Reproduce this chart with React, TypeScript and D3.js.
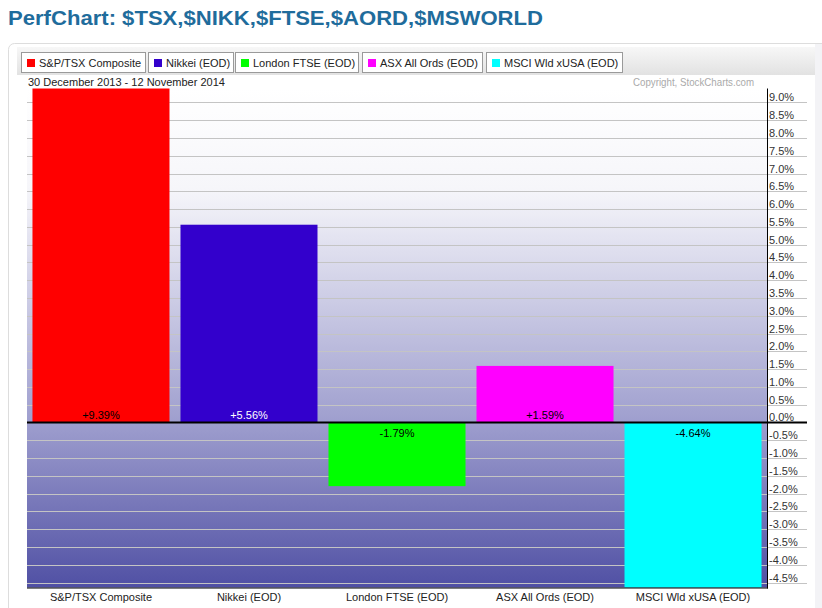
import React from "react";
import * as d3 from "d3";

const categories = ["S&P/TSX Composite", "Nikkei (EOD)", "London FTSE (EOD)", "ASX All Ords (EOD)", "MSCI Wld xUSA (EOD)"];
const values = [9.39, 5.56, -1.79, 1.59, -4.64];
const barColors = ["#ff0000", "#3300cc", "#00ff00", "#ff00ff", "#00ffff"];
const labelColors = ["#000000", "#ffffff", "#000000", "#000000", "#000000"];
const tickValues = [9.0, 8.5, 8.0, 7.5, 7.0, 6.5, 6.0, 5.5, 5.0, 4.5, 4.0, 3.5, 3.0, 2.5, 2.0, 1.5, 1.0, 0.5, 0.0, -0.5, -1.0, -1.5, -2.0, -2.5, -3.0, -3.5, -4.0, -4.5];
const titleText = "PerfChart: $TSX,$NIKK,$FTSE,$AORD,$MSWORLD";
const dateRange = "30 December 2013 - 12 November 2014";
const copyright = "Copyright, StockCharts.com";

const W = 822;
const H = 608;
const plotL = 27;
const plotR = 767;
const plotT = 88.5;
const plotB = 587.5;
const FONT = "Arial, 'Liberation Sans', sans-serif";

export default function App() {
  const y = d3.scaleLinear().domain([d3.min(values)!, d3.max(values)!]).range([plotB, plotT]);
  const x = d3.scaleBand<string>().domain(categories).range([plotL, plotR]).paddingInner(0.0743).paddingOuter(0.037);
  const y0 = y(0);
  const fmt = (v: number) => (v >= 0 ? "+" : "") + v.toFixed(2) + "%";

  const legendX = [21, 148, 235, 362, 486];
  const legendW = [124, 85, 123, 120, 136];

  return (
    <svg width={W} height={H} style={{ position: "absolute", left: 0, top: 0, background: "#fff" }} fontFamily={FONT}>
      <defs>
        <linearGradient id="bg" x1="0" y1={plotT} x2="0" y2={plotB} gradientUnits="userSpaceOnUse">
          <stop offset="0" stopColor="#ffffff" />
          <stop offset="0.2" stopColor="#f6f6fa" />
          <stop offset="0.66" stopColor="#a0a0cf" />
          <stop offset="1" stopColor="#5050a4" />
        </linearGradient>
        <linearGradient id="hdr" x1="0" y1="0" x2="0" y2="1">
          <stop offset="0" stopColor="#f7f7f7" />
          <stop offset="1" stopColor="#e2e2e2" />
        </linearGradient>
      </defs>
      <text x={8} y={25} fontSize={20} fontWeight="bold" fill="#1f6c9c" textLength={535} lengthAdjust="spacingAndGlyphs">{titleText}</text>
      <rect x={815} y={44} width={7} height={H - 44} fill="#f3f3f6" />
      <rect x={8.5} y={43.5} width={830} height={600} rx={6} fill="none" stroke="#dddddd" />
      <rect x={17} y={47} width={798} height={28} fill="url(#hdr)" />
      {categories.map((c, i) => (
        <g key={c}>
          <rect x={legendX[i] + 0.5} y={52.5} width={legendW[i]} height={20} fill="#ffffff" stroke="#9a9a9a" />
          <rect x={legendX[i] + 6} y={59} width={8} height={8} fill={barColors[i]} />
          <text x={legendX[i] + 18} y={66.5} fontSize={11} fill="#222">{c}</text>
        </g>
      ))}
      <text x={28} y={86} fontSize={11} fill="#222">{dateRange}</text>
      <text x={754} y={86} fontSize={11} fill="#aaaaaa" textAnchor="end" textLength={121} lengthAdjust="spacingAndGlyphs">{copyright}</text>
      <rect x={plotL} y={plotT} width={plotR - plotL} height={plotB - plotT} fill="url(#bg)" />
      {tickValues.map((t) => (
        <g key={t}>
          {t !== 0 && <line x1={plotL} x2={807} y1={Math.round(y(t)) + 0.5} y2={Math.round(y(t)) + 0.5} stroke="#c4c4c4" />}
          <text x={769} y={Math.round(y(t)) - 1.5} fontSize={11} fill="#333">{t.toFixed(1) + "%"}</text>
        </g>
      ))}
      {values.map((v, i) => (
        <rect key={i} x={x(categories[i])} y={Math.min(y(v), y0)} width={x.bandwidth()} height={Math.abs(y(v) - y0)} fill={barColors[i]} />
      ))}
      {values.map((v, i) => (
        <text key={i} x={x(categories[i])! + x.bandwidth() / 2} y={v >= 0 ? y0 - 3 : y0 + 15} fontSize={11} textAnchor="middle" fill={labelColors[i]}>{fmt(v)}</text>
      ))}
      <line x1={plotL} x2={807} y1={y0} y2={y0} stroke="#000" strokeWidth={2} />
      <line x1={plotR + 0.5} x2={plotR + 0.5} y1={plotT} y2={plotB + 1} stroke="#000" />
      <line x1={plotL} x2={plotR + 1} y1={plotB + 0.5} y2={plotB + 0.5} stroke="#000" />
      {categories.map((c) => (
        <text key={c} x={x(c)! + x.bandwidth() / 2} y={601} fontSize={11} textAnchor="middle" fill="#222">{c}</text>
      ))}
    </svg>
  );
}
